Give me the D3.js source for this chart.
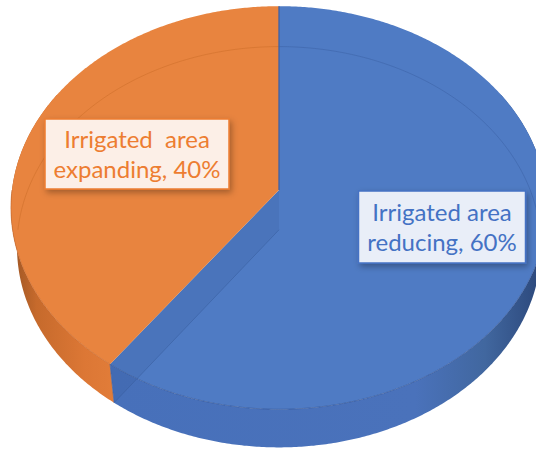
<!DOCTYPE html>
<html>
<head>
<meta charset="utf-8">
<script src="https://cdn.jsdelivr.net/npm/d3@7/dist/d3.min.js"></script>
<style>
  html, body { margin: 0; padding: 0; background: #ffffff; }
  svg { display: block; }
</style>
</head>
<body>
<script>
// Share of irrigated area by trend
const categories = ["Irrigated area reducing", "Irrigated area expanding"];
const values = [60, 40];
const labelLines = [["Irrigated area", "reducing, 60%"], ["Irrigated  area", "expanding, 40%"]];
const topColors = ["#4f7bc4", "#e8843f"];
const textColors = ["#4472c4", "#ed7d31"];

const W = 536, H = 449;

// camera for the tilted 3-D disc
const elev = 48.5 * Math.PI / 180;
const sE = Math.sin(elev), cE = Math.cos(elev);
const dist = 7.54;          // camera distance in disc radii
const F = 267;              // screen scale (px per radius)
const X0 = 279, Y0 = 190;   // screen position of the disc centre
const T = 0.23;             // disc thickness in radii

const svg = d3.select("body").append("svg").attr("width", W).attr("height", H);
const defs = svg.append("defs");

// angle (clockwise from the far side) and depth below the top -> screen point
function P(a, t) {
  const x = Math.sin(a), y = Math.cos(a);
  const u = y * sE - t * cE;
  const w = y * cE + t * sE;
  const q = 1 + w / dist;
  return [X0 + F * x / q, Y0 - F * u / q];
}
function centre(t) {
  const u = -t * cE, w = t * sE, q = 1 + w / dist;
  return [X0, Y0 - F * u / q];
}
function rim(a0, a1, t) {
  const n = Math.max(2, Math.ceil(Math.abs(a1 - a0) / (Math.PI / 360)));
  return d3.range(n + 1).map(i => P(a0 + (a1 - a0) * i / n, t));
}
const line = d3.line();
const poly = pts => line(pts) + "Z";

// wall gradients
const gBlue = defs.append("linearGradient").attr("id", "side0")
  .attr("gradientUnits", "userSpaceOnUse").attr("x1", 110).attr("x2", 546).attr("y1", 0).attr("y2", 0);
[[0, "#4770ba"], [0.7, "#4a72bb"], [0.86, "#41679f"], [1, "#2a4578"]]
  .forEach(([o, c]) => gBlue.append("stop").attr("offset", o).attr("stop-color", c));
const gOrange = defs.append("linearGradient").attr("id", "side1")
  .attr("gradientUnits", "userSpaceOnUse").attr("x1", 10).attr("x2", 116).attr("y1", 0).attr("y2", 0);
[[0, "#9a5424"], [0.25, "#c66a2c"], [0.7, "#dc7735"], [1, "#e27d39"]]
  .forEach(([o, c]) => gOrange.append("stop").attr("offset", o).attr("stop-color", c));

const shadow = defs.append("filter").attr("id", "shadow")
  .attr("x", "-20%").attr("y", "-20%").attr("width", "140%").attr("height", "150%");
shadow.append("feDropShadow").attr("dx", 2).attr("dy", 3).attr("stdDeviation", 3)
  .attr("flood-color", "#000").attr("flood-opacity", 0.3);

const pie = d3.pie().sort(null).value(d => d);
const arcs = pie(values);
const cut = arcs[0].endAngle;

const chart = svg.append("g");

// outer walls (front half plus a margin for the silhouette)
const front = [Math.PI / 3, 5 * Math.PI / 3];
arcs.forEach((d, i) => {
  const a0 = Math.max(d.startAngle, front[0]);
  const a1 = Math.min(d.endAngle, front[1]);
  if (a1 <= a0) return;
  chart.append("path")
    .attr("d", poly(rim(a0, a1, 0).concat(rim(a1, a0, T))))
    .attr("fill", "url(#side" + i + ")");
});

// top faces
arcs.forEach((d, i) => {
  chart.append("path")
    .attr("d", poly([centre(0)].concat(rim(d.startAngle, d.endAngle, 0))))
    .attr("fill", topColors[i]);
});

// cut face between the slices, showing through the blue slice
chart.append("path")
  .attr("d", poly([centre(0), P(cut, 0), P(cut, T), centre(T)]))
  .attr("fill", "#2d4f8f").attr("opacity", 0.15);
chart.append("path")
  .attr("d", line([centre(T), P(cut, T)]))
  .attr("stroke", "#3a5f9f").attr("stroke-width", 1).attr("opacity", 0.55);

// far bottom rim seen faintly through the top
[[3 * Math.PI / 2, 2 * Math.PI, "#cf6f2b"], [0, Math.PI / 2, "#3e64a8"]].forEach(([a0, a1, c]) => {
  chart.append("path").attr("d", line(rim(a0, a1, T)))
    .attr("fill", "none").attr("stroke", c).attr("stroke-width", 1).attr("opacity", 0.6);
});

// front rim of the top face
chart.append("path").attr("d", line(rim(Math.PI / 2, cut, 0)))
  .attr("fill", "none").attr("stroke", "#2f4f8c").attr("stroke-width", 1).attr("opacity", 0.55);
chart.append("path").attr("d", line(rim(cut, 3 * Math.PI / 2, 0)))
  .attr("fill", "none").attr("stroke", "#c4652a").attr("stroke-width", 1).attr("opacity", 0.6);

// slice seams
chart.append("path").attr("d", line([P(0, 0), centre(0)]))
  .attr("stroke", "#3c62a8").attr("stroke-width", 1.3);
chart.append("path").attr("d", line([P(cut, 0), P(cut, T)]))
  .attr("stroke", "#3c62a8").attr("stroke-width", 1).attr("opacity", 0.7);

// data labels
const labelPos = [[442, 227], [137, 154]];
const boxSize = [[167, 72], [184, 70]];
const boxFill = ["#e9eef8", "#fcefe7"];
const lineGap = 30;
arcs.forEach((d, i) => {
  const g = svg.append("g").attr("transform", "translate(" + labelPos[i][0] + "," + labelPos[i][1] + ")");
  g.append("rect")
    .attr("x", -boxSize[i][0] / 2).attr("y", -boxSize[i][1] / 2)
    .attr("width", boxSize[i][0]).attr("height", boxSize[i][1])
    .attr("fill", boxFill[i]).attr("stroke", textColors[i]).attr("stroke-width", 1.5)
    .attr("filter", "url(#shadow)");
  labelLines[i].forEach((t, k) => {
    g.append("text")
      .attr("x", 0).attr("y", (k - 0.5) * lineGap + 9)
      .attr("text-anchor", "middle")
      .attr("font-family", "Lato, 'Open Sans', sans-serif")
      .attr("font-size", 24)
      .attr("fill", textColors[i])
      .style("white-space", "pre")
      .text(t);
  });
});
</script>
</body>
</html>
